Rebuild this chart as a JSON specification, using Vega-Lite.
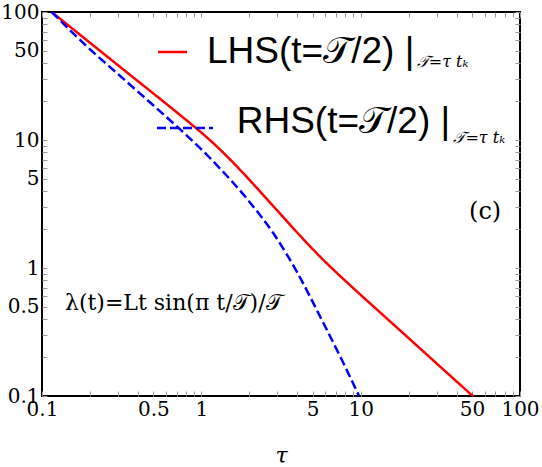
{
  "$schema": "https://vega.github.io/schema/vega-lite/v6.json",
  "width": 478,
  "height": 384,
  "autosize": {"type": "none"},
  "padding": {"left": 42, "top": 12, "right": 22, "bottom": 71},
  "background": "white",
  "config": {
    "view": {"stroke": "black", "strokeWidth": 2},
    "axis": {"grid": false, "domain": false, "labelFont": "DejaVu Serif", "labelFontSize": 20, "labelColor": "black", "tickColor": "#999", "tickSize": -5, "tickWidth": 1}
  },
  "resolve": {"axis": {"x": "independent", "y": "independent"}},
  "datasets": {
    "curves": [
      {"tau": 0.115, "value": 100, "series": "LHS"},
      {"tau": 0.3162, "value": 36.4, "series": "LHS"},
      {"tau": 0.7943, "value": 14.49, "series": "LHS"},
      {"tau": 1.0, "value": 11.43, "series": "LHS"},
      {"tau": 1.2589, "value": 8.83, "series": "LHS"},
      {"tau": 1.5849, "value": 6.65, "series": "LHS"},
      {"tau": 1.9953, "value": 4.91, "series": "LHS"},
      {"tau": 2.5119, "value": 3.58, "series": "LHS"},
      {"tau": 3.1623, "value": 2.61, "series": "LHS"},
      {"tau": 3.981, "value": 1.9, "series": "LHS"},
      {"tau": 5.0119, "value": 1.4, "series": "LHS"},
      {"tau": 6.31, "value": 1.05, "series": "LHS"},
      {"tau": 7.943, "value": 0.802, "series": "LHS"},
      {"tau": 12.589, "value": 0.476, "series": "LHS"},
      {"tau": 19.953, "value": 0.284, "series": "LHS"},
      {"tau": 31.623, "value": 0.169, "series": "LHS"},
      {"tau": 51.0, "value": 0.099, "series": "LHS"},
      {"tau": 0.115, "value": 100, "series": "RHS"},
      {"tau": 0.1995, "value": 51.3, "series": "RHS"},
      {"tau": 0.3162, "value": 30.9, "series": "RHS"},
      {"tau": 0.5012, "value": 18.6, "series": "RHS"},
      {"tau": 0.7943, "value": 11.09, "series": "RHS"},
      {"tau": 1.0, "value": 8.45, "series": "RHS"},
      {"tau": 1.2589, "value": 6.31, "series": "RHS"},
      {"tau": 1.9953, "value": 3.31, "series": "RHS"},
      {"tau": 2.818, "value": 1.884, "series": "RHS"},
      {"tau": 3.981, "value": 0.933, "series": "RHS"},
      {"tau": 5.623, "value": 0.407, "series": "RHS"},
      {"tau": 7.943, "value": 0.172, "series": "RHS"},
      {"tau": 9.772, "value": 0.1, "series": "RHS"}
    ],
    "legendlines": [
      {"x1": 0.535, "x2": 0.813, "y": 48.7, "series": "LHS"},
      {"x1": 0.527, "x2": 1.184, "y": 12.4, "series": "RHS"}
    ],
    "bigtext": [
      {"tau": 1.086, "value": 40.2, "label": "LHS(t=𝒯/2) |"},
      {"tau": 1.667, "value": 11.3, "label": "RHS(t=𝒯/2) |"}
    ],
    "subtext": [
      {"tau": 22.5, "value": 37.2, "label": "𝒯=τ tₖ"},
      {"tau": 38.2, "value": 9.42, "label": "𝒯=τ tₖ"}
    ],
    "tag": [
      {"tau": 60.4, "value": 2.74, "label": "(c)"}
    ],
    "formula": [
      {"tau": 0.1394, "value": 0.533, "label": "λ(t)=Lt sin(π t/𝒯)/𝒯"}
    ]
  },
  "layer": [
    {
      "data": {"name": "curves"},
      "mark": {"type": "line", "strokeWidth": 2.5, "clip": true, "interpolate": "monotone"},
      "encoding": {
        "x": {"field": "tau", "type": "quantitative",
              "scale": {"type": "log", "domain": [0.1, 100], "nice": false},
              "axis": {"orient": "bottom", "title": "τ", "titleFont": "DejaVu Serif", "titleFontStyle": "italic", "titleFontWeight": "normal", "titleFontSize": 22, "titlePadding": 26,
                       "values": [0.1,0.2,0.3,0.4,0.5,0.6,0.7,0.8,0.9,1,2,3,4,5,6,7,8,9,10,20,30,40,50,60,70,80,90,100],
                       "labelExpr": "indexof([0.1,0.5,1,5,10,50,100], datum.value) >= 0 ? datum.label : ''",
                       "labelPadding": 8, "labelFlush": false, "labelOverlap": false}},
        "y": {"field": "value", "type": "quantitative",
              "scale": {"type": "log", "domain": [0.1, 100], "nice": false},
              "axis": {"orient": "left", "title": null,
                       "values": [0.1,0.2,0.3,0.4,0.5,0.6,0.7,0.8,0.9,1,2,3,4,5,6,7,8,9,10,20,30,40,50,60,70,80,90,100],
                       "labelExpr": "indexof([0.1,0.5,1,5,10,50,100], datum.value) >= 0 ? datum.label : ''",
                       "labelPadding": 8, "labelFlush": false, "labelOverlap": false}},
        "color": {"field": "series", "type": "nominal", "scale": {"domain": ["LHS", "RHS"], "range": ["#ff0000", "#0000ff"]}, "legend": null},
        "strokeDash": {"field": "series", "type": "nominal", "scale": {"domain": ["LHS", "RHS"], "range": [[1, 0], [9, 4]]}, "legend": null}
      }
    },
    {
      "data": {"name": "legendlines"},
      "mark": {"type": "rule", "strokeWidth": 2.5},
      "encoding": {
        "x": {"field": "x1", "type": "quantitative", "axis": null},
        "x2": {"field": "x2"},
        "y": {"field": "y", "type": "quantitative", "axis": null},
        "color": {"field": "series", "type": "nominal", "legend": null},
        "strokeDash": {"field": "series", "type": "nominal", "legend": null}
      }
    },
    {
      "data": {"name": "bigtext"},
      "mark": {"type": "text", "font": "Liberation Sans", "fontSize": 37, "align": "left", "baseline": "alphabetic", "color": "black"},
      "encoding": {
        "x": {"field": "tau", "type": "quantitative", "axis": null},
        "y": {"field": "value", "type": "quantitative", "axis": null},
        "text": {"field": "label"}
      }
    },
    {
      "data": {"name": "subtext"},
      "mark": {"type": "text", "font": "DejaVu Serif", "fontStyle": "italic", "fontSize": 16, "align": "left", "baseline": "alphabetic", "color": "black"},
      "encoding": {
        "x": {"field": "tau", "type": "quantitative", "axis": null},
        "y": {"field": "value", "type": "quantitative", "axis": null},
        "text": {"field": "label"}
      }
    },
    {
      "data": {"name": "tag"},
      "mark": {"type": "text", "font": "DejaVu Serif", "fontSize": 24, "align": "center", "baseline": "middle", "color": "black"},
      "encoding": {
        "x": {"field": "tau", "type": "quantitative", "axis": null},
        "y": {"field": "value", "type": "quantitative", "axis": null},
        "text": {"field": "label"}
      }
    },
    {
      "data": {"name": "formula"},
      "mark": {"type": "text", "font": "DejaVu Serif", "fontSize": 22, "align": "left", "baseline": "middle", "color": "black"},
      "encoding": {
        "x": {"field": "tau", "type": "quantitative", "axis": null},
        "y": {"field": "value", "type": "quantitative", "axis": null},
        "text": {"field": "label"}
      }
    },
    {
      "data": {"values": [{"tau": 1, "value": 1}]},
      "mark": {"type": "point", "opacity": 0},
      "encoding": {
        "x": {"field": "tau", "type": "quantitative", "axis": {"orient": "top", "title": null, "labels": false,
              "values": [0.1,0.2,0.3,0.4,0.5,0.6,0.7,0.8,0.9,1,2,3,4,5,6,7,8,9,10,20,30,40,50,60,70,80,90,100]}},
        "y": {"field": "value", "type": "quantitative", "axis": {"orient": "right", "title": null, "labels": false,
              "values": [0.1,0.2,0.3,0.4,0.5,0.6,0.7,0.8,0.9,1,2,3,4,5,6,7,8,9,10,20,30,40,50,60,70,80,90,100]}}
      }
    }
  ]
}
